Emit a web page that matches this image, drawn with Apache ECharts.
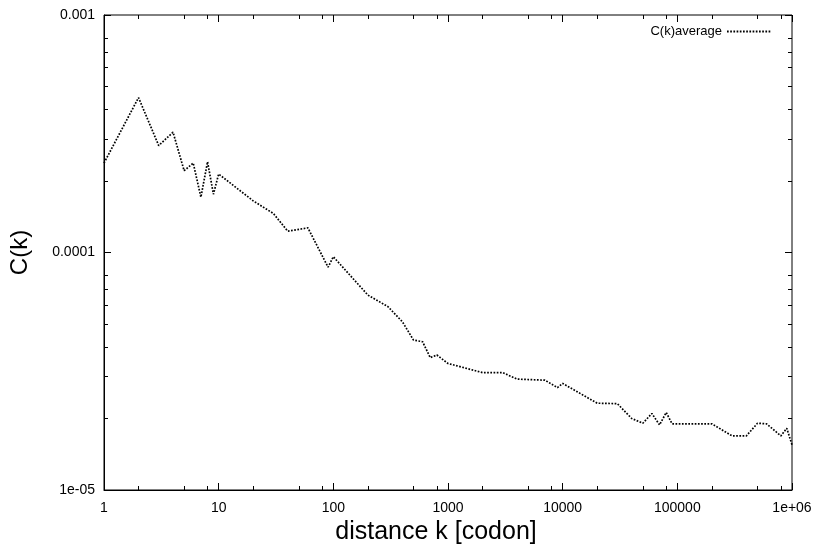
<!DOCTYPE html>
<html>
<head>
<meta charset="utf-8">
<script src="https://cdn.jsdelivr.net/npm/echarts@6/dist/echarts.min.js"></script>
<style>
  html, body { margin: 0; padding: 0; background: #fff; }
  #chart { width: 818px; height: 550px; }
</style>
</head>
<body>
<div id="chart"></div>
<script>
// distance k (codon) and averaged correlation C(k)
var kValues = [1, 2, 3, 4, 5, 6, 7, 8, 9, 10, 20, 30, 40, 60, 90, 100, 200, 300, 400, 500,
  600, 700, 800, 1000, 2000, 3000, 4000, 7000, 9000, 10000, 20000, 30000, 40000, 50000,
  60000, 70000, 80000, 90000, 200000, 300000, 400000, 500000, 600000, 800000, 900000, 1000000];
var ckValues = [2.38e-4, 4.49e-4, 2.82e-4, 3.21e-4, 2.21e-4, 2.38e-4, 1.71e-4, 2.41e-4, 1.76e-4, 2.14e-4,
  1.65e-4, 1.46e-4, 1.23e-4, 1.27e-4, 8.67e-5, 9.6e-5, 6.62e-5, 5.91e-5, 5.11e-5, 4.28e-5,
  4.21e-5, 3.61e-5, 3.70e-5, 3.41e-5, 3.12e-5, 3.12e-5, 2.93e-5, 2.90e-5, 2.70e-5, 2.81e-5,
  2.32e-5, 2.31e-5, 2.00e-5, 1.91e-5, 2.10e-5, 1.88e-5, 2.12e-5, 1.90e-5, 1.90e-5, 1.69e-5,
  1.69e-5, 1.91e-5, 1.90e-5, 1.69e-5, 1.82e-5, 1.55e-5];

// ticks
var xMajor = [1, 10, 100, 1000, 10000, 100000, 1000000];
var xMinor = [2, 5, 8, 20, 50, 80, 200, 500, 800, 2000, 5000, 8000, 20000, 50000, 80000, 200000, 500000, 800000];
var yMajor = [1e-5, 1e-4, 1e-3];
var yMinor = [2e-5, 3e-5, 4e-5, 5e-5, 6e-5, 7e-5, 8e-5, 2e-4, 3e-4, 4e-4, 5e-4, 6e-4, 7e-4, 8e-4];

var seriesData = [];
for (var i = 0; i < kValues.length; i++) {
  seriesData.push([kValues[i], ckValues[i]]);
}

function fmtX(v) {
  var e = Math.round(Math.log10(v));
  if (e >= 6) return '1e+0' + e;
  return String(Math.pow(10, e));
}
function fmtY(v) {
  var e = Math.round(Math.log10(v));
  if (e <= -5) return '1e-0' + (-e);
  return (Math.pow(10, e)).toFixed(-e);
}

var font = 'Liberation Sans, Arial, sans-serif';

function xAx(pos, ticks, len, main) {
  return {
    type: 'log', logBase: 10, min: 1, max: 1e6, position: pos,
    axisLine: { show: main, lineStyle: { color: '#000', width: 1 } },
    axisTick: { show: true, inside: true, length: len, customValues: ticks, lineStyle: { color: '#000' } },
    axisLabel: main && pos === 'bottom' ? {
      show: true, customValues: xMajor, formatter: fmtX, color: '#000', fontSize: 14, fontFamily: font, margin: 11
    } : { show: false },
    splitLine: { show: false },
    name: main && pos === 'bottom' ? 'distance k [codon]' : '',
    nameLocation: 'middle', nameGap: 26,
    nameTextStyle: { fontSize: 25, fontFamily: font, color: '#000', padding: [0, 24, 0, 0] }
  };
}
function yAx(pos, ticks, len, main) {
  return {
    type: 'log', logBase: 10, min: 1e-5, max: 1e-3, position: pos,
    axisLine: { show: main, lineStyle: { color: '#000', width: 1 } },
    axisTick: { show: true, inside: true, length: len, customValues: ticks, lineStyle: { color: '#000' } },
    axisLabel: main && pos === 'left' ? {
      show: true, customValues: yMajor, formatter: fmtY, color: '#000', fontSize: 14, fontFamily: font, margin: 9
    } : { show: false },
    splitLine: { show: false },
    name: main && pos === 'left' ? 'C(k)' : '',
    nameLocation: 'middle', nameGap: 72,
    nameTextStyle: { fontSize: 24, fontFamily: font, color: '#000' }
  };
}

var chart = echarts.init(document.getElementById('chart'));
chart.setOption({
  backgroundColor: '#fff',
  animation: false,
  grid: { left: 102, right: 26, top: 15, bottom: 60, show: true, borderColor: '#000', borderWidth: 1 },
  legend: {
    right: 46, top: 25, align: 'right',
    itemWidth: 44, itemHeight: 12, padding: 0,
    itemStyle: { color: 'transparent', borderWidth: 0 },
    textStyle: { fontSize: 13, fontFamily: font, color: '#000' },
    data: ['C(k)average']
  },
  xAxis: [
    xAx('bottom', xMajor, 7, true),
    xAx('bottom', xMinor, 4, false),
    xAx('top', xMajor, 7, false),
    xAx('top', xMinor, 4, false)
  ],
  yAxis: [
    yAx('left', yMajor, 7, true),
    yAx('left', yMinor, 4, false),
    yAx('right', yMajor, 7, false),
    yAx('right', yMinor, 4, false)
  ],
  series: [{
    name: 'C(k)average',
    type: 'line',
    xAxisIndex: 0, yAxisIndex: 0,
    showSymbol: false, symbol: 'none',
    lineStyle: { color: '#000', width: 1.7, type: [1.7, 1.5] },
    itemStyle: { color: '#000' },
    data: seriesData
  }]
});
</script>
</body>
</html>
